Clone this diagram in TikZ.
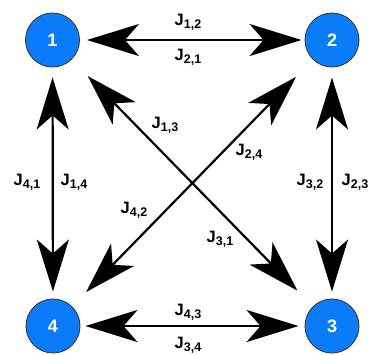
\documentclass[tikz,border=0pt]{standalone}
\usepackage{fontspec}
\setmainfont{Liberation Sans}
\usetikzlibrary{arrows.meta}
\definecolor{nodeblue}{HTML}{0A7CFA}
\definecolor{rimgray}{HTML}{3A3A3A}
\newcommand{\Jl}[1]{J\raisebox{-0.35ex}{\fontsize{12.5}{14}\selectfont #1}}
\tikzset{
  x=1pt,y=-1pt,
  state/.style={circle, fill=nodeblue, draw=rimgray, line width=0.9pt, minimum size=54pt, inner sep=0pt,
    text=white, font=\fontsize{18}{20}\selectfont\bfseries},
  link/.style={line width=2.2pt, {Stealth[length=52pt,width=32pt,inset=14pt]}-{Stealth[length=52pt,width=32pt,inset=14pt]}},
  lab/.style={font=\fontsize{16.5}{19}\selectfont\bfseries, inner sep=0pt}
}
\begin{document}
\begin{tikzpicture}
\useasboundingbox (0,0) rectangle (374,354);
\node[state] (n1) at (52.5,40) {1};
\node[state] (n2) at (332,40) {2};
\node[state] (n3) at (332,326) {3};
\node[state] (n4) at (53,326) {4};

\draw[link, shorten <=7pt, shorten >=3pt] (n1) -- (n2);
\draw[link, shorten <=5pt, shorten >=6pt] (n4) -- (n3);
\draw[link, shorten <=10pt, shorten >=7pt] (n1) -- (n4);
\draw[link, shorten <=10pt, shorten >=7pt] (n2) -- (n3);
\draw[link, shorten <=23pt, shorten >=22pt] (n1) -- (n3);
\draw[link, shorten <=24pt, shorten >=20pt] (n2) -- (n4);

\node[lab] (l12) at (188,22) {\Jl{1,2}};
\node[lab] (l21) at (188,57) {\Jl{2,1}};
\node[lab] (l43) at (188,312) {\Jl{4,3}};
\node[lab] (l34) at (188,345) {\Jl{3,4}};
\node[lab] (l41) at (27,182) {\Jl{4,1}};
\node[lab] (l14) at (74,182) {\Jl{1,4}};
\node[lab] (l32) at (310,182) {\Jl{3,2}};
\node[lab] (l23) at (355,182) {\Jl{2,3}};
\node[lab] (l13) at (165,125) {\Jl{1,3}};
\node[lab] (l24) at (249,152) {\Jl{2,4}};
\node[lab] (l42) at (134,210) {\Jl{4,2}};
\node[lab] (l31) at (220,239) {\Jl{3,1}};
\end{tikzpicture}
\end{document}
